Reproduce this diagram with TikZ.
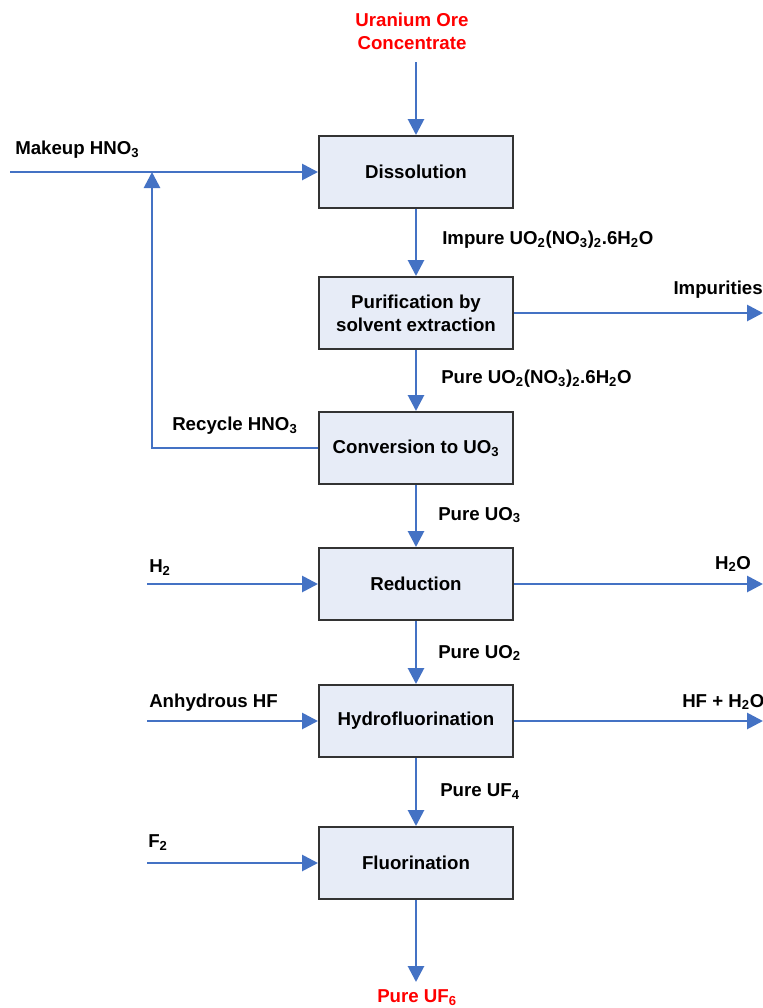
\documentclass[tikz,border=0pt]{standalone}
\usepackage{fontspec}
\setmainfont{Liberation Sans}
\usetikzlibrary{arrows.meta}
\definecolor{flowblue}{RGB}{68,114,196}
\definecolor{boxfill}{RGB}{231,236,247}
\definecolor{orered}{RGB}{255,0,0}
\newcommand{\chsub}[1]{\textsubscript{#1}}
\begin{document}
\begin{tikzpicture}[x=0.75pt,y=-0.75pt,
  font=\fontsize{14}{17}\selectfont\bfseries,
  stage/.style={draw=black!80,line width=1.5pt,fill=boxfill,minimum width=145.5pt,minimum height=54pt,inner sep=0pt,align=center},
  flow/.style={flowblue,line width=2.1pt,-{Triangle[length=12pt,width=12pt]}},
  lbl/.style={inner sep=0pt,anchor=west},
  endlbl/.style={text=orered,align=center,inner sep=0pt}]
\clip (0,0) rectangle (763,1008);
\node[endlbl] (ore) at (412,31) {Uranium Ore\\Concentrate};
\node[stage] (dis) at (416,172) {Dissolution};
\node[stage] (pur) at (416,313) {Purification by\\solvent extraction};
\node[stage] (con) at (416,448) {Conversion to UO\chsub{3}};
\node[stage] (red) at (416,584) {Reduction};
\node[stage] (hyd) at (416,721) {Hydrofluorination};
\node[stage] (flu) at (416,863) {Fluorination};
\node[endlbl] (uf6) at (417,998) {Pure UF\chsub{6}};
\coordinate (oretop) at (416,62);
\coordinate (uf6top) at (416,982);
\draw[flow] (oretop) -- (dis);
\foreach \a/\b in {dis/pur,pur/con,con/red,red/hyd,hyd/flu} \draw[flow] (\a) -- (\b);
\draw[flow] (flu) -- (uf6top);
\node[lbl] (impuo) at (442,240) {Impure UO\chsub{2}(NO\chsub{3})\chsub{2}.6H\chsub{2}O};
\node[lbl] (pureuon) at (441,379) {Pure UO\chsub{2}(NO\chsub{3})\chsub{2}.6H\chsub{2}O};
\node[lbl] (pureuo3) at (438,515) {Pure UO\chsub{3}};
\node[lbl] (pureuo2) at (438,653) {Pure UO\chsub{2}};
\node[lbl] (pureuf4) at (440,792) {Pure UF\chsub{4}};
\coordinate (mkin) at (10,172);
\coordinate (rcy) at (152,172);
\draw[flow] (mkin) -- (dis);
\draw[flow] (con.west) -| (rcy);
\node[lbl] (mklbl) at (15,150) {Makeup HNO\chsub{3}};
\node[lbl] (rcylbl) at (172,426) {Recycle HNO\chsub{3}};
\foreach \n/\y in {red/584,hyd/721,flu/863} {
  \coordinate (in\n) at (147,\y);
  \coordinate (out\n) at (763,\y);
  \draw[flow] (in\n) -- (\n);
}
\node[lbl] (h2lbl) at (149,568) {H\chsub{2}};
\node[lbl] (hflbl) at (149,703) {Anhydrous HF};
\node[lbl] (f2lbl) at (148,843) {F\chsub{2}};
\coordinate (outpur) at (763,313);
\draw[flow] (pur) -- (outpur);
\draw[flow] (red) -- (outred);
\draw[flow] (hyd) -- (outhyd);
\node[inner sep=0pt,anchor=east] (implbl) at (763,290) {Impurities};
\node[inner sep=0pt] (h2olbl) at (733,564) {H\chsub{2}O};
\node[lbl] (hfh2olbl) at (682,702) {HF + H\chsub{2}O};
\end{tikzpicture}
\end{document}
